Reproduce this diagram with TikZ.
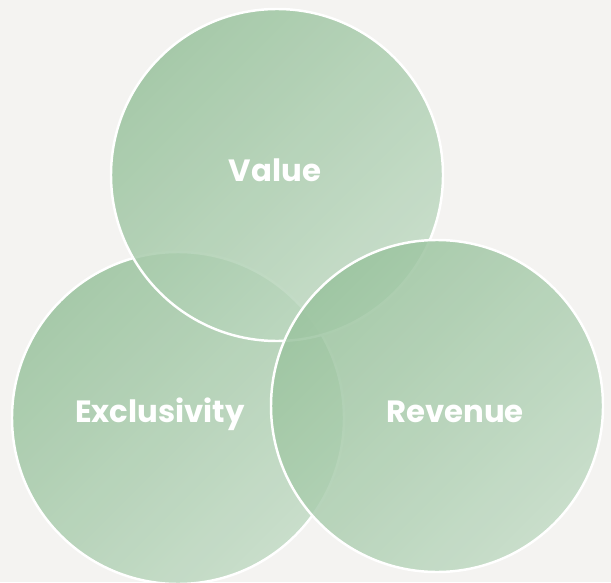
\documentclass[tikz,border=0pt]{standalone}
\usepackage{fontspec}
\setsansfont{Poppins}
\usepackage{xcolor}
\usepackage{tikz}
\definecolor{paper}{RGB}{244,243,241}
\definecolor{leafdark}{RGB}{154,195,158}
\definecolor{leafmid}{RGB}{160,199,164}
\definecolor{leaflight}{RGB}{194,219,197}
\tikzset{
disc/.style = {circle, draw=white, line width=1.4pt, inner sep=0pt, minimum size = #1,
  top color=leafdark, middle color=leafmid, bottom color=leaflight,
  shading angle=45, fill opacity=0.86},
disc/.default = 6.64cm, % diameter of each circle
lbl/.style = {anchor=base, text=white, font=\sffamily\bfseries\fontsize{17.5}{20}\selectfont},
}

\begin{document}
\begin{tikzpicture}
    \fill[paper] (0,0) rectangle (12.22,-11.64);
    \useasboundingbox (0,0) rectangle (12.22,-11.64);
    \node[disc] (circExcl) at (3.56,-8.36) {};
    \node[disc] (circValue) at (5.54,-3.50) {};
    \node[disc] (circRev) at (8.74,-8.12) {};
    \node[lbl] (txtValue) at (5.50,-3.64) {Value};
    \node[lbl] (txtExcl) at (3.20,-8.45) {Exclusivity};
    \node[lbl] (txtRev) at (9.10,-8.45) {Revenue};
\end{tikzpicture}
\end{document}
